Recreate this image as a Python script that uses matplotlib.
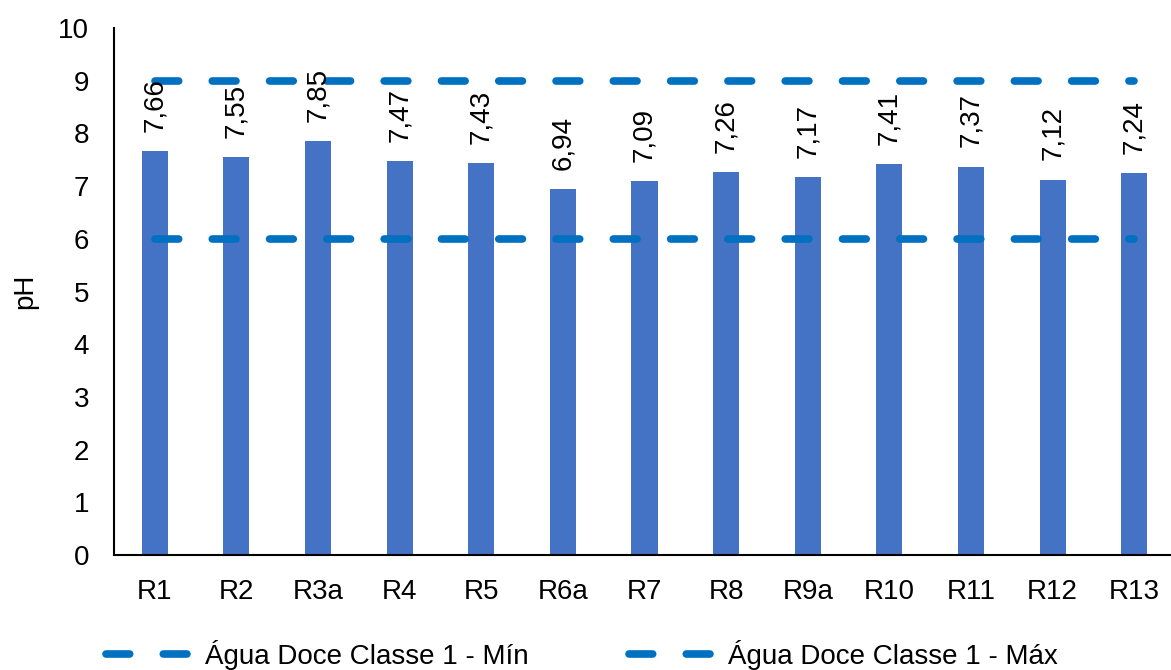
import matplotlib
matplotlib.use("Agg")
import matplotlib.pyplot as plt
import numpy as np

categories = ["R1", "R2", "R3a", "R4", "R5", "R6a", "R7", "R8", "R9a", "R10", "R11", "R12", "R13"]
ph_values = [7.66, 7.55, 7.85, 7.47, 7.43, 6.94, 7.09, 7.26, 7.17, 7.41, 7.37, 7.12, 7.24]
limit_min = 6
limit_max = 9
legend_labels = ["Água Doce Classe 1 - Mín", "Água Doce Classe 1 - Máx"]
yticks = list(range(0, 11))

plt.rcParams['font.family'] = ['Liberation Sans', 'DejaVu Sans']
FS = 20

fig = plt.figure(figsize=(11.71, 6.70), dpi=100)
ax = fig.add_axes([114/1171, 1 - 555/670, 1 - 114/1171, (555 - 28)/670])

x = np.arange(len(categories))
bar_color = "#4472C4"
line_color = "#0070C0"
ax.bar(x, ph_values, width=0.32, color=bar_color, zorder=2)

lw = 5.5
dash = (3.1, 4.4)
l1, = ax.plot(x, [limit_min]*len(x), color=line_color, lw=lw, dashes=dash,
              dash_capstyle='round', zorder=3, label=legend_labels[0])
l2, = ax.plot(x, [limit_max]*len(x), color=line_color, lw=lw, dashes=dash,
              dash_capstyle='round', zorder=3, label=legend_labels[1])

for xi, v in zip(x, ph_values):
    ax.annotate(f"{v:.2f}".replace(".", ","), (xi, v), xytext=(0, 14),
                textcoords="offset points", rotation=90, ha="center", va="bottom",
                fontsize=FS, zorder=4)

ax.set_ylim(0, 10)
ax.set_xlim(-0.5, 12.45)
ax.set_yticks(yticks)
ax.set_xticks(x)
ax.set_xticklabels(categories)
ax.tick_params(axis='both', length=0, labelsize=FS)
ax.tick_params(axis='x', pad=17)
ax.tick_params(axis='y', pad=18)
for s in ["top", "right"]:
    ax.spines[s].set_visible(False)
for s in ["left", "bottom"]:
    ax.spines[s].set_linewidth(1.5)
    ax.spines[s].set_color("black")

ax.set_ylabel("pH", fontsize=FS, labelpad=14)

fig.legend(handles=[l1, l2], labels=legend_labels, loc="center",
           bbox_to_anchor=(0.497, 1 - 655/670), ncol=2, frameon=False, fontsize=FS,
           handlelength=3.2, columnspacing=3.6, handletextpad=0.36)

fig.savefig("out.png", dpi=100)
